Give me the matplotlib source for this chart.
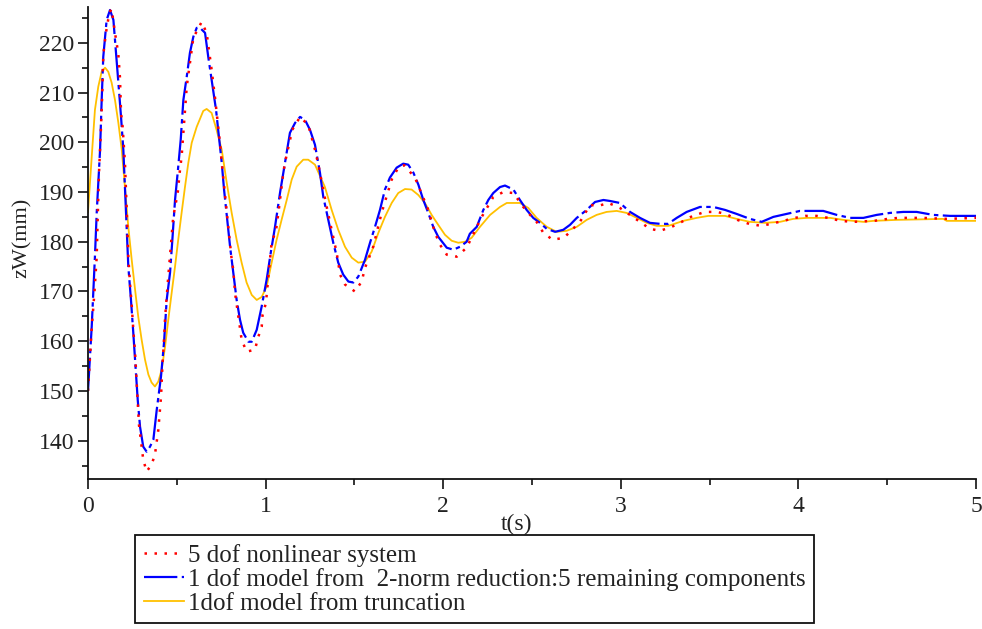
#!/usr/bin/env python3
# -*- coding: utf-8 -*-
import matplotlib.pyplot as plt
from matplotlib.ticker import MultipleLocator
from matplotlib.lines import Line2D

# 5 dof nonlinear system
t_full = [0.0, 0.021, 0.036, 0.049, 0.054, 0.062, 0.073, 0.081, 0.086, 0.101,
          0.12, 0.133, 0.152, 0.161, 0.171, 0.18, 0.186, 0.195, 0.208, 0.218,
          0.227, 0.236, 0.246, 0.255, 0.265, 0.283, 0.287, 0.311, 0.33, 0.358,
          0.377, 0.396, 0.411, 0.418, 0.43, 0.434, 0.452, 0.48, 0.505, 0.518,
          0.527, 0.556, 0.593, 0.64, 0.668, 0.696, 0.715, 0.734, 0.743, 0.753,
          0.809, 0.818, 0.828, 0.856, 0.865, 0.893, 0.94, 0.959, 0.978, 0.983,
          1.002, 1.015, 1.034, 1.059, 1.072, 1.1, 1.109, 1.15, 1.194, 1.24,
          1.278, 1.297, 1.344, 1.4, 1.409, 1.419, 1.447, 1.503, 1.541, 1.56,
          1.578, 1.606, 1.653, 1.71, 1.747, 1.78, 1.841, 1.916, 1.954, 1.982,
          2.02, 2.076, 2.132, 2.217, 2.282, 2.339, 2.395, 2.451, 2.479, 2.526,
          2.564, 2.616, 2.68, 2.714, 2.77, 2.827, 2.873, 2.93, 2.995, 3.052,
          3.108, 3.164, 3.221, 3.287, 3.343, 3.405, 3.474, 3.54, 3.592, 3.656,
          3.722, 3.79, 3.846, 3.915, 3.981, 4.039, 4.103, 4.168, 4.238, 4.306,
          4.426, 4.503, 4.563, 4.632, 4.7, 4.835, 5.0]
z_full = [150.0, 162.7, 169.7, 177.0, 184.0, 193.9, 202.9, 210.6, 217.6, 222.0,
          226.0, 226.8, 222.0, 220.0, 217.6, 213.0, 205.9, 203.1, 195.9, 186.4,
          177.0, 171.8, 167.3, 162.3, 157.7, 145.6, 143.2, 136.2, 133.8, 135.2,
          137.2, 142.2, 148.8, 154.3, 161.7, 164.7, 173.0, 185.0, 189.8, 194.5,
          197.1, 211.2, 221.0, 224.2, 222.0, 214.6, 209.0, 202.9, 199.9, 195.9,
          176.4, 174.4, 169.7, 162.7, 160.3, 157.9, 158.3, 160.9, 162.9, 165.3,
          167.7, 172.8, 179.8, 182.4, 185.8, 193.9, 195.9, 202.5, 205.1, 203.5,
          198.5, 195.5, 187.0, 177.8, 175.8, 173.4, 171.4, 170.0, 172.0, 174.8,
          176.4, 179.0, 185.8, 192.5, 194.9, 195.4, 192.9, 186.4, 181.8, 179.4,
          177.4, 177.0, 178.8, 185.0, 189.0, 190.0, 189.8, 187.0, 185.8, 184.0,
          181.8, 180.4, 180.8, 182.0, 184.0, 187.4, 187.2, 187.8, 186.8, 185.4,
          184.0, 182.6, 182.2, 183.0, 184.0, 185.2, 186.0, 186.0, 185.6, 184.4,
          183.6, 183.2, 183.6, 184.2, 184.8, 185.2, 185.2, 184.8, 184.2, 184.0,
          184.2, 184.6, 184.8, 184.8, 184.8, 184.6, 184.8]

# 1 dof model from 2-norm reduction
t_red = [0.0, 0.021, 0.039, 0.049, 0.068, 0.077, 0.086, 0.105, 0.124, 0.143,
         0.161, 0.171, 0.186, 0.199, 0.208, 0.218, 0.227, 0.242, 0.255, 0.265,
         0.28, 0.293, 0.311, 0.33, 0.349, 0.368, 0.387, 0.411, 0.428, 0.443,
         0.462, 0.475, 0.49, 0.505, 0.522, 0.537, 0.556, 0.574, 0.593, 0.612,
         0.631, 0.659, 0.677, 0.702, 0.721, 0.739, 0.753, 0.766, 0.784, 0.8,
         0.818, 0.837, 0.856, 0.874, 0.903, 0.922, 0.95, 0.978, 1.006, 1.029,
         1.053, 1.081, 1.109, 1.137, 1.166, 1.194, 1.222, 1.25, 1.278, 1.306,
         1.325, 1.353, 1.381, 1.409, 1.437, 1.466, 1.494, 1.522, 1.56, 1.588,
         1.616, 1.644, 1.672, 1.7, 1.738, 1.775, 1.803, 1.832, 1.86, 1.888,
         1.916, 1.944, 1.972, 2.02, 2.057, 2.095, 2.132, 2.15, 2.189, 2.226,
         2.254, 2.282, 2.32, 2.348, 2.395, 2.432, 2.47, 2.507, 2.545, 2.583,
         2.63, 2.676, 2.714, 2.752, 2.808, 2.855, 2.902, 2.939, 2.995, 3.052,
         3.108, 3.164, 3.221, 3.266, 3.315, 3.371, 3.446, 3.521, 3.587, 3.652,
         3.727, 3.793, 3.859, 3.934, 4.009, 4.075, 4.14, 4.216, 4.291, 4.366,
         4.441, 4.516, 4.591, 4.666, 4.759, 4.854, 5.0]
z_red = [150.0, 163.0, 177.0, 185.8, 198.5, 208.5, 217.2, 224.6, 226.6, 224.6,
         216.6, 212.0, 205.1, 198.5, 191.0, 183.0, 175.0, 168.3, 161.7, 156.3,
         148.2, 142.8, 138.8, 137.8, 138.8, 140.2, 146.2, 152.9, 159.7, 168.3,
         173.8, 180.4, 188.4, 193.9, 200.5, 208.5, 213.2, 218.0, 221.2, 223.0,
         223.0, 222.0, 217.2, 211.2, 206.5, 200.5, 195.9, 190.5, 184.4, 179.0,
         173.8, 168.3, 164.3, 161.7, 159.9, 159.9, 162.3, 167.0, 172.4, 177.8,
         183.0, 189.8, 195.9, 201.9, 203.9, 205.1, 204.5, 202.5, 199.5, 193.9,
         189.0, 184.4, 179.8, 175.8, 173.4, 172.0, 171.8, 173.0, 176.4, 179.8,
         183.0, 186.4, 190.5, 192.9, 194.9, 195.7, 195.5, 193.9, 191.5, 188.4,
         185.8, 183.0, 181.0, 178.8, 178.4, 179.0, 180.0, 181.6, 183.0, 186.4,
         188.4, 189.8, 191.0, 191.3, 190.5, 188.4, 186.4, 184.8, 183.8, 182.6,
         182.0, 182.4, 183.4, 184.8, 186.4, 188.0, 188.4, 188.2, 187.8, 186.0,
         184.8, 183.8, 183.6, 183.6, 184.8, 186.0, 187.0, 187.0, 186.4, 185.6,
         184.6, 184.0, 185.0, 185.6, 186.2, 186.2, 186.2, 185.4, 184.8, 184.8,
         185.4, 185.8, 186.0, 186.0, 185.4, 185.2, 185.2]

# 1 dof model from truncation
t_trunc = [0.0, 0.021, 0.039, 0.058, 0.077, 0.096, 0.114, 0.133, 0.152, 0.171,
           0.19, 0.208, 0.227, 0.246, 0.265, 0.283, 0.302, 0.321, 0.34, 0.358,
           0.377, 0.396, 0.415, 0.434, 0.452, 0.471, 0.49, 0.508, 0.527, 0.546,
           0.565, 0.584, 0.612, 0.649, 0.668, 0.696, 0.724, 0.753, 0.781, 0.809,
           0.837, 0.865, 0.893, 0.922, 0.95, 0.978, 1.006, 1.034, 1.062, 1.09,
           1.119, 1.147, 1.175, 1.212, 1.24, 1.278, 1.334, 1.372, 1.409, 1.447,
           1.485, 1.522, 1.56, 1.597, 1.635, 1.672, 1.71, 1.747, 1.785, 1.822,
           1.86, 1.897, 1.935, 1.972, 2.01, 2.048, 2.085, 2.123, 2.16, 2.207,
           2.264, 2.32, 2.358, 2.432, 2.479, 2.526, 2.583, 2.639, 2.695, 2.752,
           2.808, 2.864, 2.92, 2.977, 3.033, 3.09, 3.146, 3.202, 3.268, 3.352,
           3.427, 3.493, 3.587, 3.652, 3.727, 3.812, 3.896, 3.971, 4.047, 4.178,
           4.253, 4.366, 4.422, 4.553, 4.816, 4.835, 5.0]
z_trunc = [186.0, 197.1, 206.5, 211.2, 214.2, 215.0, 214.2, 212.0, 208.5, 203.9,
           198.5, 191.0, 183.0, 176.4, 170.4, 164.9, 160.3, 156.3, 153.3, 151.7,
           150.9, 151.9, 154.3, 158.9, 164.3, 169.7, 175.0, 180.4, 185.8, 191.0,
           195.9, 199.9, 203.1, 206.3, 206.7, 205.9, 202.5, 198.5, 191.9, 185.8,
           180.4, 175.8, 171.8, 169.3, 168.3, 168.9, 171.0, 175.8, 180.4, 184.4,
           188.4, 192.5, 195.1, 196.5, 196.5, 195.5, 191.0, 186.4, 182.4, 179.0,
           176.8, 175.8, 176.0, 178.0, 181.8, 185.0, 187.8, 189.8, 190.6, 190.5,
           189.4, 187.8, 185.4, 183.4, 181.4, 180.2, 179.8, 180.0, 180.8, 183.0,
           185.4, 187.0, 187.8, 187.8, 186.8, 184.8, 183.0, 182.0, 182.2, 183.0,
           184.4, 185.4, 186.0, 186.2, 185.8, 184.8, 183.8, 183.2, 183.2, 184.2,
           184.8, 185.2, 185.2, 184.6, 184.0, 183.8, 184.0, 184.6, 184.8, 184.8,
           184.4, 184.0, 184.2, 184.4, 184.6, 184.2, 184.2]

labels = ["5 dof nonlinear system",
          "1 dof model from  2-norm reduction:5 remaining components",
          "1dof model from truncation"]

plt.rcParams['font.family'] = ['Liberation Serif', 'DejaVu Serif']
TXT = '#222222'

W, H = 982, 629
fig = plt.figure(figsize=(W / 100, H / 100), dpi=100)
ax = fig.add_axes([88 / W, 1 - 479 / H, (976 - 88) / W, (479 - 7) / H])

red_style = dict(color='#ff0000', lw=1.8, linestyle=(0, (1, 3)))
blue_style = dict(color='#0000ff', lw=1.6, linestyle=(0, (15, 2, 2, 2)))
gold_style = dict(color='#ffc000', lw=1.3, linestyle='-')

ax.plot(t_trunc, z_trunc, **gold_style)
ax.plot(t_red, z_red, **blue_style)
ax.plot(t_full, z_full, **red_style)

ax.set_xlim(0, 5)
ax.set_ylim(132.3, 227.2)
for side in ('top', 'right'):
    ax.spines[side].set_visible(False)
for side in ('left', 'bottom'):
    ax.spines[side].set_linewidth(1.3)
    ax.spines[side].set_color('#111111')

ax.xaxis.set_major_locator(MultipleLocator(1))
ax.xaxis.set_minor_locator(MultipleLocator(0.5))
ax.yaxis.set_major_locator(MultipleLocator(10))
ax.yaxis.set_minor_locator(MultipleLocator(5))
ax.set_yticks(range(140, 221, 10))
ax.tick_params(which='major', direction='out', length=7, width=1.2,
               labelsize=17, labelcolor=TXT, color='#111111', pad=3)
ax.tick_params(axis='x', which='major', pad=5)
ax.tick_params(which='minor', direction='out', length=4.5, width=1.2,
               color='#111111')

ax.set_xlabel('t(s)', fontsize=17, color=TXT)
ax.xaxis.set_label_coords((517 - 88) / 888, -(514 - 479) / 472)
ax.set_ylabel('zW(mm)', fontsize=16, color=TXT)
# anchor is the baseline side of the rotated text
ax.yaxis.set_label_coords((32 - 88) / 888, 1 - (238 - 7) / 472)

handles = [Line2D([], [], **red_style),
           Line2D([], [], **blue_style),
           Line2D([], [], **gold_style)]
leg = fig.legend(handles, labels, loc='upper left',
                 bbox_to_anchor=(135 / W, 1 - 535 / H), fontsize=18,
                 frameon=True, fancybox=False, framealpha=1, edgecolor='#111111',
                 borderpad=0.35, borderaxespad=0, labelspacing=0.05,
                 handlelength=1.6, handletextpad=0.15, labelcolor=TXT)
leg.get_frame().set_linewidth(1.3)

fig.savefig('out.png', dpi=100)
